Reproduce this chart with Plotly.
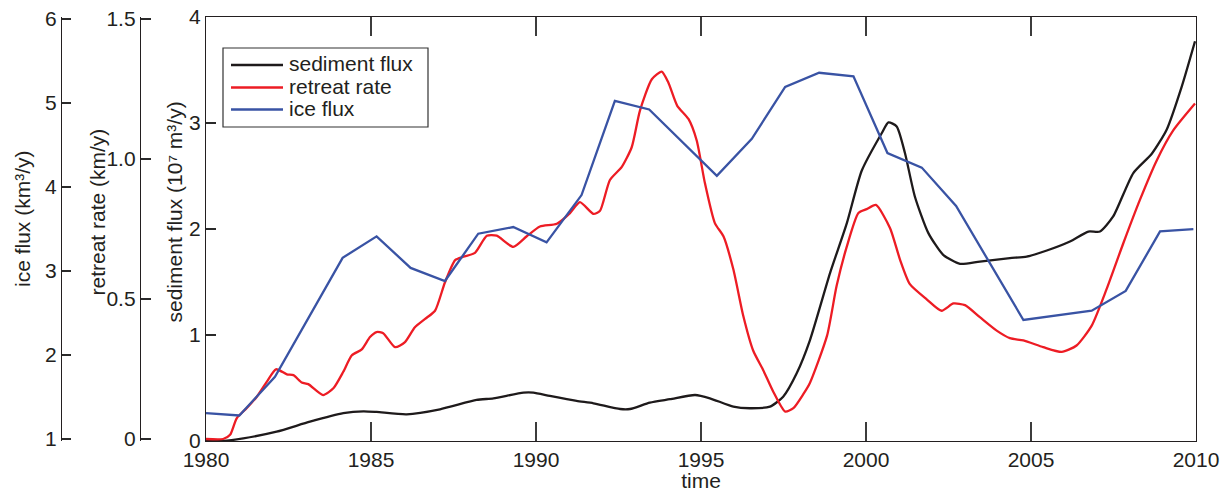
import plotly.graph_objects as go

# ---------------- data ----------------
sed_years = [1980.0, 1980.52, 1981.13, 1982.14, 1983.15, 1984.16, 1984.77, 1985.17, 1986.08,
             1987.09, 1988.2, 1988.71, 1989.62, 1989.92, 1990.42, 1991.23, 1991.74, 1992.55,
             1992.85, 1993.45, 1994.06, 1994.82, 1995.27, 1995.98, 1996.48, 1997.09, 1997.49,
             1997.9, 1998.3, 1998.91, 1999.42, 1999.87, 2000.48, 2000.68, 2000.93, 2001.18,
             2001.48, 2001.89, 2002.34, 2002.85, 2003.45, 2004.36, 2004.87, 2005.48, 2006.18,
             2006.74, 2007.09, 2007.49, 2008.1, 2008.66, 2009.11, 2009.57, 2009.97]
sed_flux = [0.0, 0.0, 0.025, 0.088, 0.182, 0.262, 0.280, 0.274, 0.252,
            0.299, 0.387, 0.403, 0.456, 0.456, 0.425, 0.378, 0.356, 0.302,
            0.302, 0.362, 0.394, 0.434, 0.403, 0.324, 0.309, 0.324, 0.418,
            0.639, 0.95, 1.584, 2.056, 2.55, 2.906, 3.006, 2.968, 2.717,
            2.307, 1.961, 1.756, 1.671, 1.693, 1.725, 1.740, 1.797, 1.882,
            1.976, 1.976, 2.118, 2.528, 2.710, 2.937, 3.346, 3.771]

ret_years = [1980.0, 1980.52, 1980.73, 1980.93, 1981.23, 1981.54, 1981.84, 1982.12, 1982.45,
             1982.65, 1982.9, 1983.1, 1983.55, 1983.86, 1984.16, 1984.42, 1984.72, 1984.97,
             1985.17, 1985.37, 1985.73, 1986.03, 1986.33, 1986.64, 1986.94, 1987.24, 1987.55,
             1987.8, 1988.15, 1988.51, 1988.81, 1989.31, 1989.72, 1990.12, 1990.63, 1991.03,
             1991.33, 1991.74, 1991.94, 1992.24, 1992.6, 1992.9, 1993.15, 1993.51, 1993.81,
             1994.01, 1994.28, 1994.62, 1994.87, 1995.12, 1995.42, 1995.68, 1995.98, 1996.28,
             1996.58, 1996.89, 1997.19, 1997.55, 1997.8, 1998.1, 1998.3, 1998.82, 1999.11,
             1999.42, 1999.77, 2000.02, 2000.3, 2000.73, 2001.03, 2001.33, 2001.84, 2002.29,
             2002.65, 2003.0, 2003.45, 2003.96, 2004.36, 2004.77, 2005.37, 2005.93, 2006.38,
             2006.84, 2007.29, 2007.8, 2008.3, 2008.81, 2009.31, 2009.97]
ret_rate = [0.0, 0.0, 0.015, 0.074, 0.110, 0.151, 0.204, 0.249, 0.231,
            0.228, 0.202, 0.196, 0.157, 0.181, 0.240, 0.299, 0.320, 0.364,
            0.382, 0.378, 0.328, 0.346, 0.399, 0.429, 0.458, 0.559, 0.639,
            0.651, 0.665, 0.726, 0.726, 0.686, 0.724, 0.759, 0.769, 0.807,
            0.846, 0.804, 0.815, 0.925, 0.972, 1.042, 1.173, 1.285, 1.312,
            1.273, 1.190, 1.143, 1.066, 0.913, 0.771, 0.724, 0.606, 0.440,
            0.316, 0.245, 0.169, 0.098, 0.110, 0.160, 0.200, 0.369, 0.547,
            0.688, 0.807, 0.821, 0.836, 0.753, 0.641, 0.553, 0.499, 0.458,
            0.484, 0.478, 0.435, 0.387, 0.360, 0.352, 0.328, 0.311, 0.334,
            0.405, 0.535, 0.700, 0.854, 0.995, 1.102, 1.198]

ice_years = [1980.0, 1981.01, 1982.09, 1984.14, 1985.17, 1986.2, 1987.24, 1988.25, 1989.31,
             1990.32, 1991.38, 1992.39, 1993.43, 1995.48, 1996.54, 1997.55, 1998.58, 1999.62,
             2000.65, 2001.69, 2002.73, 2004.77, 2006.84, 2007.87, 2008.91, 2009.92]
ice_flux = [1.307, 1.280, 1.740, 3.157, 3.412, 3.037, 2.881, 3.444, 3.523,
            3.341, 3.904, 5.026, 4.923, 4.132, 4.574, 5.191, 5.360, 5.318,
            4.404, 4.231, 3.774, 2.417, 2.527, 2.763, 3.471, 3.499]

x_ticks = [1980, 1985, 1990, 1995, 2000, 2005, 2010]
sed_ticks = [0, 1, 2, 3, 4]
ret_ticks = [0, 0.5, 1.0, 1.5]
ret_ticktext = ["0", "0.5", "1.0", "1.5"]
ice_ticks = [1, 2, 3, 4, 5, 6]

series_names = ["sediment flux", "retreat rate", "ice flux"]
series_colors = ["#1e1a1b", "#ed1c24", "#3953a4"]

# ---------------- figure ----------------
W, H = 1229, 492
ML, MR, MT, MB = 0, 33, 17, 51
PW = W - ML - MR
PH = H - MT - MB
FONT = "Liberation Sans, Arial, Helvetica, sans-serif"
TXT = "#231f20"
AX = "#231f20"
TICKC = "#2a2a2a"
XTICKC = "#3c3c3c"


def px(xpix):
    return (xpix - ML) / PW


def py(ypix):
    return (H - MB - ypix) / PH


def padded(lo, hi, pad_px=2.0):
    # widen a free axis range a little so its end ticks stay drawn
    per_px = (hi - lo) / (PH - 2 * pad_px)
    return [lo - per_px * pad_px, hi + per_px * pad_px]


fig = go.Figure()
fig.add_trace(go.Scatter(x=sed_years, y=sed_flux, name=series_names[0], yaxis="y",
                         mode="lines", showlegend=False,
                         line=dict(color=series_colors[0], width=2.3, shape="spline", smoothing=0.6)))
fig.add_trace(go.Scatter(x=ret_years, y=ret_rate, name=series_names[1], yaxis="y2",
                         mode="lines", showlegend=False,
                         line=dict(color=series_colors[1], width=2.3, shape="spline", smoothing=0.6)))
fig.add_trace(go.Scatter(x=ice_years, y=ice_flux, name=series_names[2], yaxis="y3",
                         mode="lines", showlegend=False,
                         line=dict(color=series_colors[2], width=2.3)))

tickfont = dict(family=FONT, size=21, color=TXT)
common_y = dict(ticks="inside", tickwidth=1.6, tickcolor=TICKC, showline=True,
                linecolor=AX, linewidth=1.3, showgrid=True, gridcolor="rgba(0,0,0,0)",
                zeroline=False, tickfont=tickfont)

fig.update_layout(
    template="none",
    width=W, height=H, autosize=False,
    margin=dict(l=ML, r=MR, t=MT, b=MB, pad=0),
    paper_bgcolor="white", plot_bgcolor="white",
    font=dict(family=FONT, size=21, color=TXT),
    showlegend=False,
    xaxis=dict(domain=[px(206), px(1196)], range=[1980, 2010], tickvals=x_ticks,
               ticks="inside", ticklen=19, tickwidth=2, tickcolor=XTICKC,
               showline=True, linecolor=AX, linewidth=1.3, mirror="ticks",
               showgrid=True, gridcolor="rgba(0,0,0,0)",
               zeroline=False, tickfont=tickfont,
               title=dict(text="time", font=dict(family=FONT, size=21, color=TXT), standoff=0)),
    yaxis=dict(range=[0, 4], tickvals=sed_ticks, ticklen=10, mirror=True, **common_y),
    yaxis2=dict(range=padded(0, 1.5), tickvals=ret_ticks, ticktext=ret_ticktext,
                overlaying="y", anchor="free", position=px(140), side="left",
                ticklen=10, **common_y),
    yaxis3=dict(range=padded(1, 6), tickvals=ice_ticks,
                overlaying="y", anchor="free", position=px(61), side="left",
                ticklen=9, **common_y),
)

# axis titles on the left
titles = [("ice flux (km³/y)", 23, 219),
          ("retreat rate (km/y)", 96.5, 212),
          ("sediment flux (10⁷ m³/y)", 173.5, 212)]
for text, xc, yc in titles:
    fig.add_annotation(text=text, x=px(xc), y=py(yc), xref="paper", yref="paper",
                       xanchor="center", yanchor="middle", textangle=-90, showarrow=False,
                       font=dict(family=FONT, size=21, color=TXT))

# legend box (drawn to match the reference's compact legend)
fig.add_shape(type="rect", xref="paper", yref="paper",
              x0=px(223), x1=px(428), y0=py(127), y1=py(48),
              line=dict(color="#333333", width=1.2), fillcolor="white", layer="above")
legend_rows = [65, 87.5, 109.5]
for name, color, yrow in zip(series_names, series_colors, legend_rows):
    fig.add_shape(type="line", xref="paper", yref="paper",
                  x0=px(231), x1=px(283), y0=py(yrow), y1=py(yrow),
                  line=dict(color=color, width=2.3), layer="above")
    fig.add_annotation(text=name, x=px(287), y=py(yrow - 1.5), xref="paper", yref="paper",
                       xanchor="left", yanchor="middle", showarrow=False,
                       font=dict(family=FONT, size=21, color=TXT))

fig.write_html("out.html")
